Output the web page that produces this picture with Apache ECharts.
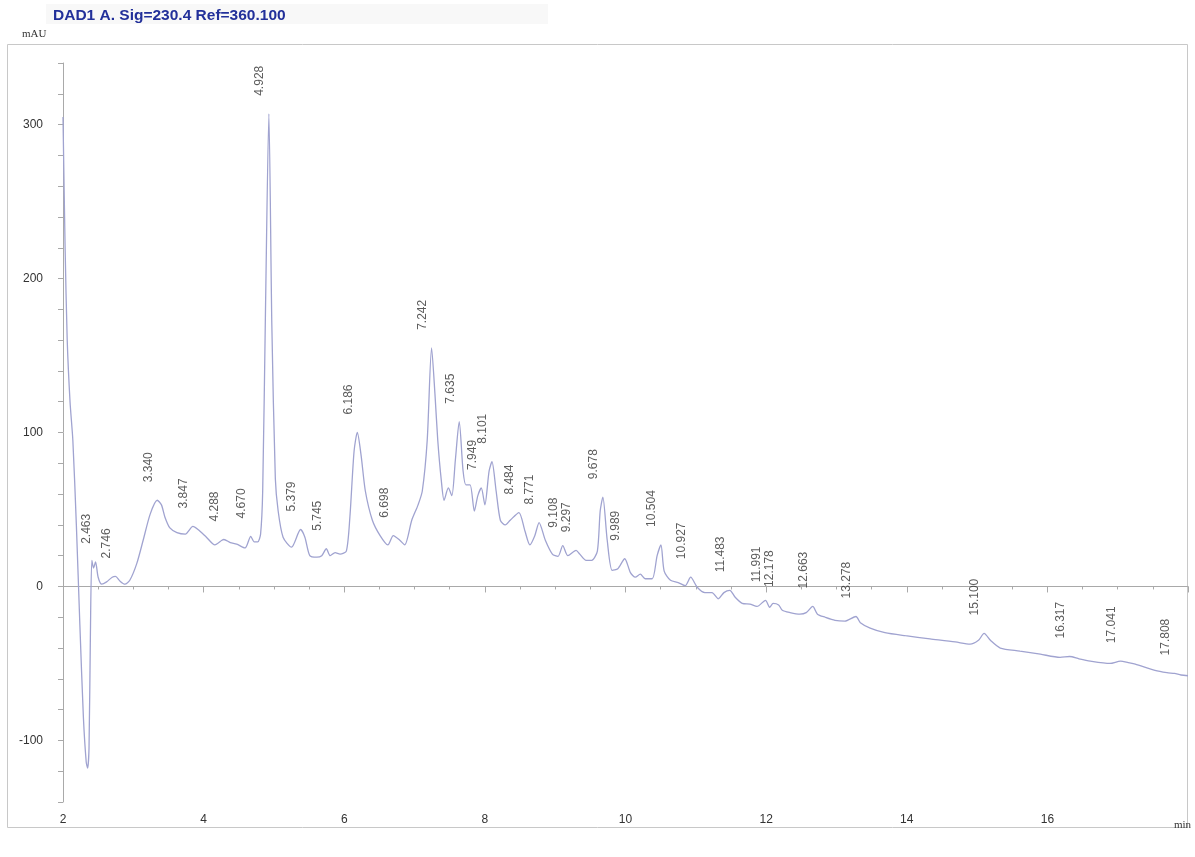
<!DOCTYPE html>
<html>
<head>
<meta charset="utf-8">
<title>DAD1 A chromatogram</title>
<script src="https://cdn.jsdelivr.net/npm/echarts@6/dist/echarts.min.js"></script>
<style>
  html, body { margin: 0; padding: 0; background: #ffffff; }
  #chart { width: 1195px; height: 857px; }
</style>
</head>
<body>
<div id="chart"></div>
<script>
// Retention time (min) of each trace sample
const timeMin = [
  2.00, 2.03, 2.06, 2.10, 2.14, 2.19, 2.24, 2.29, 2.33, 2.35, 2.37, 2.39, 2.41, 2.435, 2.463, 2.50,
  2.55, 2.62, 2.70, 2.746, 2.81, 2.88, 2.95, 3.05, 3.14, 3.24, 3.34, 3.40, 3.45, 3.52, 3.62, 3.74,
  3.847, 3.92, 4.04, 4.16, 4.26, 4.288, 4.38, 4.47, 4.59, 4.670, 4.72, 4.77, 4.81, 4.84, 4.88, 4.928,
  4.97, 5.02, 5.06, 5.13, 5.25, 5.379, 5.44, 5.51, 5.61, 5.68, 5.745, 5.80, 5.87, 5.94, 6.03, 6.08,
  6.14, 6.186, 6.24, 6.30, 6.40, 6.51, 6.62, 6.698, 6.79, 6.86, 6.96, 7.05, 7.11, 7.18, 7.242, 7.29,
  7.33, 7.38, 7.42, 7.48, 7.53, 7.58, 7.635, 7.69, 7.73, 7.79, 7.85, 7.90, 7.949, 8.00, 8.06, 8.101,
  8.16, 8.22, 8.29, 8.36, 8.484, 8.57, 8.64, 8.71, 8.771, 8.86, 8.96, 9.04, 9.108, 9.18, 9.297, 9.35,
  9.44, 9.52, 9.60, 9.64, 9.678, 9.74, 9.81, 9.89, 9.989, 10.07, 10.14, 10.21, 10.28, 10.38, 10.45, 10.504,
  10.55, 10.64, 10.75, 10.85, 10.927, 11.02, 11.13, 11.23, 11.32, 11.40, 11.483, 11.56, 11.66, 11.77, 11.87, 11.991,
  12.05, 12.10, 12.178, 12.23, 12.34, 12.48, 12.57, 12.663, 12.73, 12.84, 12.98, 13.12, 13.278, 13.34, 13.48, 13.69,
  13.98, 14.33, 14.69, 14.90, 15.02, 15.100, 15.19, 15.33, 15.61, 15.90, 16.18, 16.317, 16.45, 16.61, 16.89, 17.041,
  17.15, 17.25, 17.53, 17.70, 17.808, 17.90, 18.00
];

// Detector response (mAU) at each sample
const signalMAU = [
  305, 220, 160, 120, 95, 40, -25, -85, -114, -118, -105, -30, 17, 12, 16, 6,
  1.5, 3, 6, 6.5, 3.5, 1.5, 4, 15, 30, 47, 56, 53, 45, 38, 35, 34,
  39, 37, 32, 27, 30, 30.5, 28.5, 27.5, 25, 32.5, 29, 29, 34, 62, 180, 307,
  170, 70, 49, 32, 25.5, 37, 32, 20, 19, 20, 24.5, 20, 22, 21, 23, 45,
  88, 100, 85, 62, 43, 33, 27, 33, 30, 27, 43, 53, 62, 95, 155, 125,
  95, 69, 56, 64, 59, 82, 107, 75, 66, 66, 49, 59, 64, 53, 75, 81,
  62, 43, 40, 43, 48, 36, 27, 33, 41.5, 30, 21, 19.5, 26.5, 20, 23.5, 21,
  17, 17, 23, 49, 58, 30, 10.5, 11.5, 18, 9, 6, 8, 5, 5, 20, 27,
  10, 4, 2.5, 0.5, 6, -0.5, -4, -4, -8, -4, -2.5, -7, -11, -11.5, -13, -9,
  -13.5, -11, -12, -15.5, -17, -18, -17, -13, -18, -20, -22, -22.5, -19.5, -23.5, -27, -30,
  -32, -34, -36, -37.5, -35, -30.5, -35, -40, -42, -44, -46, -45.5, -47, -48.5, -50, -48.5,
  -49.5, -50.5, -54.5, -56, -56.5, -57.5, -58
];

// Integrated peaks, labelled by retention time (min)
const peakTimes = [
  2.463, 2.746, 3.340, 3.847, 4.288, 4.670, 4.928, 5.379, 5.745, 6.186, 6.698, 7.242,
  7.635, 7.949, 8.101, 8.484, 8.771, 9.108, 9.297, 9.678, 9.989, 10.504, 10.927, 11.483,
  11.991, 12.178, 12.663, 13.278, 15.100, 16.317, 17.041, 17.808
];

// Axis ranges and tick steps
const xRange = [2, 18];
const xStep = 2;
const yRange = [-140, 340];
const yStep = 20;
const yLabelStep = 100;

const trace = timeMin.map((t, i) => [t, signalMAU[i]]);

// Height of the trace at a peak: highest sample close to its retention time
function apexAt(t) {
  let best = -Infinity;
  timeMin.forEach((tt, i) => {
    if (Math.abs(tt - t) <= 0.03 && signalMAU[i] > best) best = signalMAU[i];
  });
  return best;
}
const peakMarks = peakTimes.map(t => ({ value: [t, apexAt(t)], name: t.toFixed(3) }));

const chart = echarts.init(document.getElementById('chart'), null, { renderer: 'canvas' });

const axisGrey = '#a9a9a9';
const textDark = '#333333';
const sans = '"Liberation Sans", Arial, sans-serif';

chart.setOption({
  animation: false,
  backgroundColor: '#ffffff',
  grid: { left: 63, right: 7, top: 63, bottom: 55, containLabel: false },
  xAxis: {
    type: 'value',
    min: xRange[0],
    max: xRange[1],
    interval: xStep,
    axisLine: { show: true, lineStyle: { color: axisGrey, width: 1 } },
    axisTick: { show: true, length: 6, lineStyle: { color: axisGrey } },
    minorTick: { show: true, splitNumber: 4, length: 3, lineStyle: { color: axisGrey } },
    splitLine: { show: false },
    axisLabel: {
      color: textDark, fontSize: 12, fontFamily: sans, margin: 12,
      formatter: v => (v >= xRange[1] ? '' : String(v))
    }
  },
  yAxis: {
    type: 'value',
    min: yRange[0],
    max: yRange[1],
    interval: yStep,
    axisLine: { show: true, lineStyle: { color: axisGrey, width: 1 } },
    axisTick: { show: true, length: 5, lineStyle: { color: axisGrey } },
    splitLine: { show: false },
    axisLabel: {
      color: textDark, fontSize: 12, fontFamily: sans, margin: 20,
      formatter: v => (v % yLabelStep === 0 ? String(v) : '')
    }
  },
  series: [
    {
      name: 'DAD1 A',
      type: 'line',
      data: trace,
      showSymbol: false,
      smooth: 0.25,
      lineStyle: { color: '#a0a3d0', width: 1.3 },
      z: 2
    },
    {
      name: 'peaks',
      type: 'scatter',
      data: peakMarks,
      symbolSize: 0,
      silent: true,
      label: {
        show: true,
        position: 'top',
        distance: 18,
        rotate: 90,
        align: 'left',
        verticalAlign: 'middle',
        offset: [0, -9],
        color: textDark,
        fontSize: 12,
        fontFamily: sans,
        formatter: p => p.name
      },
      z: 3
    }
  ],
  graphic: [
    { type: 'rect', shape: { x: 46, y: 4, width: 502, height: 20 }, style: { fill: '#f8f8f8' }, z: -1 },
    {
      type: 'text', left: 53, top: 8,
      style: { text: 'DAD1 A. Sig=230.4 Ref=360.100', fill: '#22309a', font: 'bold 15.5px "Liberation Sans", Arial, sans-serif' }
    },
    {
      type: 'text', left: 22, top: 29,
      style: { text: 'mAU', fill: textDark, font: '11px "Liberation Serif", "Times New Roman", serif' }
    },
    {
      type: 'text', left: 1174, top: 820,
      style: { text: 'min', fill: textDark, font: '11px "Liberation Serif", "Times New Roman", serif' }
    },
    {
      type: 'rect', shape: { x: 7.5, y: 44.5, width: 1180, height: 783 },
      style: { fill: 'none', stroke: '#c8c8c8', lineWidth: 1 }, z: -1, silent: true
    }
  ]
});
</script>
</body>
</html>
